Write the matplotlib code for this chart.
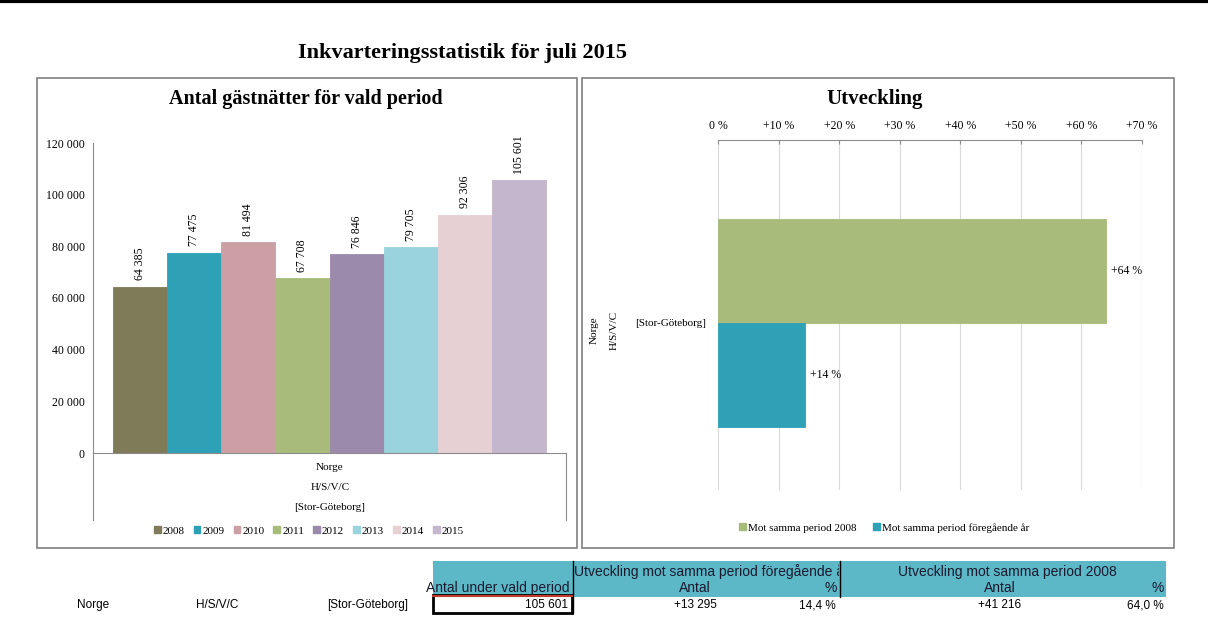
import numpy as np
import matplotlib
matplotlib.use("Agg")
from matplotlib import pyplot as plt
from matplotlib.patches import Rectangle
from matplotlib.lines import Line2D
from matplotlib.transforms import Bbox, TransformedBbox

W, H = 1208, 639

# data
years = ["2008", "2009", "2010", "2011", "2012", "2013", "2014", "2015"]
nights = [64385, 77475, 81494, 67708, 76846, 79705, 92306, 105601]
bar_colors = ["#7f7b58", "#2ea1b7", "#cb9fa4", "#a8bb7a",
              "#9c8aac", "#9ad3dd", "#e7d0d3", "#c4b6cc"]
category = ["Norge", "H/S/V/C", "[Stor-Göteborg]"]

dev_labels = ["Mot samma period 2008", "Mot samma period föregående år"]
dev_values = [64.0, 14.4]
dev_colors = ["#a8bb7a", "#2ea1b7"]
dev_ticks = [0, 10, 20, 30, 40, 50, 60, 70]

table_prev = ["+13 295", "14,4 %"]
table_2008 = ["+41 216", "64,0 %"]

serif = ["Liberation Serif", "DejaVu Serif"]
narrow = ["Liberation Sans Narrow", "Liberation Sans", "DejaVu Sans"]
plt.rcParams["font.family"] = serif


def box(x0, y0, x1, y1):
    # pixel box -> figure fraction rect
    return [x0 / W, 1 - y1 / H, (x1 - x0) / W, (y1 - y0) / H]


def fx(x):
    return x / W


def fy(y):
    return 1 - y / H


def sp(v):
    return f"{v:,}".replace(",", " ")


fig = plt.figure(figsize=(W / 100, H / 100), dpi=100)

# top black border
fig.add_artist(Line2D([0, 1], [fy(1), fy(1)], color="black", lw=3))

fig.text(fx(462), fy(53), "Inkvarteringsstatistik för juli 2015",
         ha="center", va="center", fontsize=16, fontweight="bold")

# panel frames
for x0, x1 in [(37, 577), (582, 1174)]:
    fig.add_artist(Rectangle((fx(x0), fy(548)), (x1 - x0) / W, (548 - 78) / H,
                             fill=False, ec="#7f7f7f", lw=1.2))

# ---- left chart
ax = fig.add_axes(box(93, 143, 566, 453))
n = len(nights)
pos = np.arange(n) - (n - 1) / 2
half = (566 - 93) / (545 - 112) * n / 2
ax.bar(pos, nights, width=1.0, color=bar_colors, edgecolor=bar_colors,
       linewidth=0.6)
for p, v in zip(pos, nights):
    ax.text(p, v + 2500, sp(v), rotation=90, ha="center", va="bottom",
            fontsize=8.5)
ax.set_xlim(-half, half)
ax.set_ylim(0, 120000)
ax.set_yticks(np.arange(0, 120001, 20000))
ax.set_yticklabels([sp(t) for t in range(0, 120001, 20000)], fontsize=8.5)
ax.set_xticks([])
ax.tick_params(axis="y", length=0, pad=6)
for s in ["top", "right"]:
    ax.spines[s].set_visible(False)
for s in ["left", "bottom"]:
    ax.spines[s].set_color("#8c8c8c")
fig.text(fx(306), fy(99), "Antal gästnätter för vald period", ha="center",
         va="center", fontsize=14.5, fontweight="bold")
# category axis extension
for xx in [93, 566]:
    fig.add_artist(Line2D([fx(xx), fx(xx)], [fy(453), fy(520)],
                          color="#8c8c8c", lw=0.8))
for i, lab in enumerate(category):
    fig.text(fx(330), fy(467 + 20.5 * i), lab, ha="center", va="center",
             fontsize=8)
hl = [Rectangle((0, 0), 1, 1, color=c) for c in bar_colors]
fig.legend(hl, years, loc="center", bbox_to_anchor=(fx(309), fy(531)),
           ncol=8, frameon=False, fontsize=8, handlelength=0.6,
           handleheight=0.6, handletextpad=0.2, columnspacing=0.8)

# ---- right chart
ax2 = fig.add_axes(box(718, 140, 1142, 490))
bh = 104.0
ax2.barh([0.5, -0.5], dev_values, height=1.0, color=dev_colors,
         edgecolor=dev_colors, linewidth=0.6, zorder=3)
for yv, v in zip([0.5, -0.5], dev_values):
    ax2.text(v + 0.8, yv, f"+{v:.0f} %", ha="left", va="center", fontsize=8.5)
ax2.set_xlim(0, 70)
ax2.set_ylim(-(490 - 323) / bh, (323 - 140) / bh)
ax2.xaxis.tick_top()
ax2.set_xticks(dev_ticks)
ax2.set_xticklabels(["0 %"] + [f"+{t} %" for t in dev_ticks[1:]], fontsize=8.5)
ax2.tick_params(axis="x", direction="in", length=3, color="#8c8c8c", pad=6)
ax2.set_yticks([])
ax2.grid(axis="x", color="#d9d9d9", lw=0.8, zorder=0)
for s in ["bottom", "right", "left"]:
    ax2.spines[s].set_visible(False)
ax2.spines["top"].set_color("#8c8c8c")
fig.text(fx(875), fy(99), "Utveckling", ha="center", va="center",
         fontsize=15, fontweight="bold")
fig.text(fx(594), fy(330), category[0], rotation=90, ha="center",
         va="center", fontsize=8)
fig.text(fx(614), fy(330), category[1], rotation=90, ha="center",
         va="center", fontsize=8)
fig.text(fx(671), fy(323), category[2], ha="center", va="center",
         fontsize=8)
hl2 = [Rectangle((0, 0), 1, 1, color=c) for c in dev_colors]
fig.legend(hl2, dev_labels, loc="center", bbox_to_anchor=(fx(884), fy(528)),
           ncol=2, frameon=False, fontsize=8, handlelength=0.6,
           handleheight=0.6, handletextpad=0.2, columnspacing=1.5)

# ---- table below
teal = "#5cb7c7"
fig.add_artist(Rectangle((fx(433), fy(597)), (1166 - 433) / W, 36 / H,
                         color=teal, lw=0))
fig.add_artist(Line2D([fx(573), fx(573)], [fy(561), fy(613)], color="black", lw=1))
fig.add_artist(Line2D([fx(840), fx(840)], [fy(561), fy(597)], color="black", lw=1))
fig.add_artist(Rectangle((fx(433), fy(613)), (572 - 433) / W, 18 / H,
                         fill=False, ec="black", lw=2))
fig.add_artist(Line2D([fx(433), fx(572)], [fy(595.5), fy(595.5)],
                      color="#c0392b", lw=1.5))
hk = dict(fontsize=10, family=narrow, va="center", color="#1a1a2e")
tk = dict(fontsize=8.5, family=narrow, va="center")
fig.text(fx(570), fy(588), "Antal under vald period", ha="right", **hk)
t = fig.text(fx(574), fy(572), "Utveckling mot samma period föregående år",
             ha="left", **hk)
t.set_clip_on(True)
t.set_clip_box(TransformedBbox(Bbox([[fx(574), fy(597)], [fx(839), fy(561)]]),
                               fig.transFigure))
fig.text(fx(1007), fy(572), "Utveckling mot samma period 2008", ha="center", **hk)
fig.text(fx(695), fy(588), "Antal", ha="center", **hk)
fig.text(fx(837), fy(588), "%", ha="right", **hk)
fig.text(fx(1000), fy(588), "Antal", ha="center", **hk)
fig.text(fx(1164), fy(588), "%", ha="right", **hk)

fig.text(fx(93), fy(605), category[0], ha="center", **tk)
fig.text(fx(217), fy(605), category[1], ha="center", **tk)
fig.text(fx(368), fy(605), category[2], ha="center", **tk)
fig.text(fx(568), fy(605), sp(nights[-1]), ha="right", **tk)
fig.text(fx(695), fy(605), table_prev[0], ha="center", **tk)
fig.text(fx(836), fy(605), table_prev[1], ha="right", **tk)
fig.text(fx(1000), fy(605), table_2008[0], ha="center", **tk)
fig.text(fx(1164), fy(605), table_2008[1], ha="right", **tk)

fig.savefig("out.png", dpi=100)
